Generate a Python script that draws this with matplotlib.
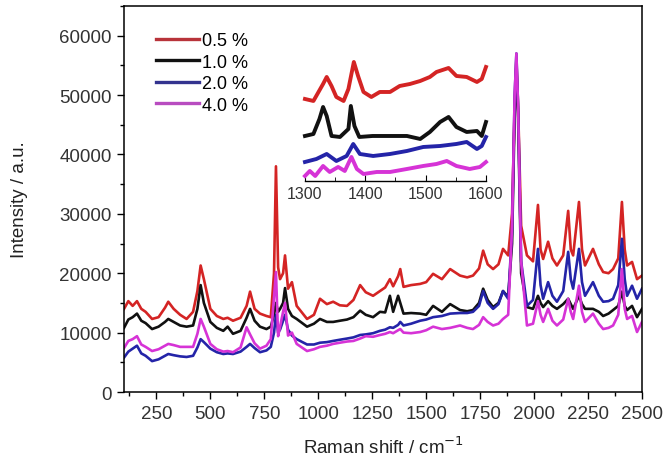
import matplotlib
matplotlib.use("Agg")
import matplotlib.pyplot as plt
from matplotlib.ticker import MultipleLocator, FixedLocator
from matplotlib.lines import Line2D

plt.rcParams['font.family'] = ['Liberation Sans', 'DejaVu Sans']

# ---------------- data ----------------
wavenumber = [100, 120, 140, 160, 180, 200, 230, 260, 290, 305, 330, 360, 390, 420, 440, 455, 470,
              500, 530, 560, 580, 605, 640, 668, 684, 705, 730, 760, 780, 795, 804, 814, 823, 837,
              846, 860, 878, 900, 948, 980, 1008, 1040, 1069, 1100, 1133, 1163, 1194, 1220, 1254,
              1286, 1310, 1332, 1347, 1370, 1380, 1395, 1430, 1472, 1500, 1532, 1573, 1611, 1657,
              1690, 1717, 1745, 1764, 1785, 1810, 1835, 1856, 1880, 1898, 1910, 1918, 1926, 1940,
              1967, 1995, 2018, 2030, 2042, 2065, 2085, 2106, 2135, 2158, 2170, 2181, 2208, 2222,
              2236, 2273, 2300, 2320, 2345, 2366, 2390, 2407, 2420, 2431, 2454, 2477, 2500]

int_05 = [14000, 15300, 14500, 15300, 14000, 13500, 12300, 12600, 14200, 15200, 14000, 13000, 12300,
          13500, 17000, 21300, 19000, 14000, 12800, 12300, 12500, 12000, 12500, 14500, 16900, 14000,
          13200, 12800, 12600, 20000, 38000, 21000, 19000, 20000, 23000, 17400, 18500, 14500, 12300,
          13000, 15700, 14800, 15200, 14600, 14500, 15500, 18000, 16800, 16200, 17000, 17600, 19000,
          17800, 19500, 20700, 17700, 18000, 18200, 18500, 19900, 19000, 20700, 19600, 19300, 19600,
          20800, 23800, 21500, 20700, 21500, 24100, 23000, 30000, 48000, 56000, 48000, 28000, 23000,
          22000, 31500, 24000, 22400, 25300, 22500, 21300, 23000, 30500, 24000, 23000, 32000, 24000,
          21300, 24100, 21500, 20200, 20000, 20700, 22500, 32000, 24000, 21300, 21900, 19000, 19600]

int_10 = [10800, 12200, 12600, 13200, 12000, 11600, 10600, 11000, 11800, 12300, 11800, 11200, 11000,
          11200, 14000, 18000, 15000, 11800, 10800, 10300, 11000, 9800, 10300, 12500, 14000, 12000,
          11000, 10600, 11000, 13000, 15000, 13500, 14000, 15000, 17500, 14000, 12800, 12300, 11000,
          11500, 12300, 11800, 11800, 12000, 12200, 12600, 13700, 13000, 12600, 13500, 13400, 16200,
          13500, 16200, 15000, 13200, 13300, 13200, 13000, 14500, 13500, 14800, 13800, 13600, 13800,
          15000, 17400, 15500, 14300, 15000, 17000, 16000, 25000, 47000, 55000, 46000, 20000, 14300,
          14000, 16200, 15000, 14300, 15300, 14500, 14000, 14800, 15700, 14800, 14000, 16200, 14800,
          14000, 14000, 13500, 12800, 13200, 13800, 14500, 16900, 14500, 13800, 14500, 12600, 14000]

int_20 = [5800, 6800, 7300, 7800, 6500, 6100, 5200, 5500, 6100, 6400, 6200, 6000, 5900,
          6100, 7500, 8900, 8400, 7300, 6700, 6400, 6500, 6400, 6800, 7600, 8100, 7400,
          6700, 7000, 7600, 10000, 13000, 10000, 10500, 12000, 13000, 10500, 9500, 8900, 8000,
          8000, 8300, 8400, 8600, 8800, 9000, 9200, 9600, 9700, 9900, 10300, 10500, 10900,
          10800, 11300, 11800, 11200, 11500, 12000, 12200, 12600, 12800, 13200, 13300, 13300, 13500,
          14500, 17000, 15000, 14000, 14800, 17000, 15700, 27000, 50000, 57000, 48000, 22000, 14500,
          15500, 24100, 18000, 15700, 18500, 16200, 15200, 17000, 23600, 19000, 17400, 24100, 18500,
          16200, 18500, 16200, 15200, 15300, 15700, 18000, 25800, 19000, 16200, 17900, 15700, 17400]

int_40 = [7400, 8600, 8900, 9400, 8000, 7600, 6900, 7200, 7800, 8100, 7900, 7600, 7600,
          7600, 9800, 12300, 11000, 8100, 7200, 6800, 6900, 6700, 7500, 10900, 9700, 8200,
          7300, 7800, 8900, 16000, 20200, 9400, 11000, 13500, 15000, 9500, 10000, 8100, 6900,
          7200, 7600, 7800, 8100, 8300, 8500, 8600, 9000, 9400, 9300, 9600, 9800, 10100,
          9900, 10400, 10600, 10000, 9900, 10100, 10400, 11000, 10600, 10800, 11200, 10800, 10600,
          11300, 12600, 11800, 11200, 11500, 12300, 13000, 28000, 50000, 57000, 48000, 22000, 11200,
          11500, 15300, 13000, 11800, 14000, 12000, 11200, 12200, 15700, 13500, 12300, 17900, 13500,
          11800, 13200, 11500, 10600, 10800, 11200, 13000, 20700, 14000, 12300, 12800, 10100, 11800]

# inset (zoomed 1300-1600 cm-1, offset arbitrary units)
inset_red_x = [1300, 1314, 1330, 1336, 1344, 1352, 1364, 1372, 1381, 1388, 1397, 1410, 1424, 1441,
               1457, 1474, 1491, 1507, 1518, 1538, 1551, 1568, 1585, 1593, 1600]
inset_red_y = [82, 80, 97, 104, 95, 84, 80, 92, 119, 105, 89, 84, 89, 89, 95, 97, 100, 104, 109, 113,
               105, 104, 99, 102, 114]
inset_black_x = [1300, 1314, 1324, 1330, 1336, 1344, 1358, 1372, 1376, 1382, 1390, 1412, 1441, 1469,
                 1491, 1507, 1524, 1538, 1551, 1568, 1585, 1593, 1600]
inset_black_y = [45, 47, 62, 74, 65, 45, 44, 52, 75, 55, 44, 45, 45, 45, 42, 49, 59, 64, 54, 49, 50, 45, 59]
inset_blue_x = [1300, 1319, 1336, 1352, 1369, 1380, 1391, 1413, 1441, 1469, 1496, 1524, 1551, 1568,
                1585, 1593, 1600]
inset_blue_y = [19, 22, 27, 20, 25, 37, 27, 25, 27, 30, 34, 35, 37, 39, 32, 35, 44]
inset_mag_x = [1300, 1308, 1317, 1330, 1341, 1355, 1366, 1377, 1386, 1397, 1419, 1441, 1469, 1496,
               1518, 1535, 1551, 1573, 1590, 1600]
inset_mag_y = [5, 10, 5, 15, 9, 14, 10, 24, 12, 7, 9, 9, 12, 15, 17, 20, 15, 12, 14, 19]

labels = ['0.5 %', '1.0 %', '2.0 %', '4.0 %']
colors = ['#d42424', '#111111', '#2424a8', '#d633d6']
legend_colors = ['#b8333a', '#111111', '#33338f', '#b84cc0']

# ---------------- figure ----------------
fig = plt.figure(figsize=(6.65, 4.64), dpi=100)
ax = fig.add_axes([0.1865, 0.153, 0.7789, 0.832])

series = [int_05, int_10, int_20, int_40]
for vals, c in zip(series, colors):
    ax.plot(wavenumber, vals, color=c, lw=1.9, solid_joinstyle='round')

ax.set_xlim(100, 2500)
ax.set_ylim(0, 65000)
ax.xaxis.set_major_locator(FixedLocator([250, 500, 750, 1000, 1250, 1500, 1750, 2000, 2250, 2500]))
ax.xaxis.set_minor_locator(FixedLocator([125, 375, 625, 875, 1125, 1375, 1625, 1875, 2125, 2375]))
ax.yaxis.set_major_locator(MultipleLocator(10000))
ax.yaxis.set_minor_locator(MultipleLocator(5000))
ax.tick_params(which='both', direction='out', top=False, right=False, labelsize=13.5, width=1.0)
ax.tick_params(which='major', length=5, pad=4)
ax.tick_params(which='minor', length=3)
for s in ax.spines.values():
    s.set_linewidth(1.1)
ax.set_xlabel('Raman shift / cm$^{-1}$', fontsize=13.5, color='#222222', labelpad=10)
ax.set_ylabel('Intensity / a.u.', fontsize=13.5, color='#222222', labelpad=22)
for lbl in ax.get_xticklabels() + ax.get_yticklabels():
    lbl.set_color('#333333')

handles = [Line2D([], [], color=c, lw=2.4) for c in legend_colors]
ax.legend(handles, labels, loc='upper left', bbox_to_anchor=(0.062, 0.932), frameon=False,
          fontsize=13, handlelength=2.4, handletextpad=0.15, labelspacing=0.25,
          borderaxespad=0, borderpad=0)

# ---------------- inset ----------------
axi = fig.add_axes([0.4586, 0.6078, 0.2722, 0.2694])
axi.patch.set_alpha(0)
axi.plot(inset_red_x, inset_red_y, color=colors[0], lw=2.8, clip_on=False)
axi.plot(inset_black_x, inset_black_y, color=colors[1], lw=2.8, clip_on=False)
axi.plot(inset_blue_x, inset_blue_y, color=colors[2], lw=2.8, clip_on=False)
axi.plot(inset_mag_x, inset_mag_y, color=colors[3], lw=2.8, clip_on=False)
axi.set_xlim(1300, 1600)
axi.set_ylim(0, 125)
for side in ['left', 'right', 'top']:
    axi.spines[side].set_visible(False)
axi.spines['bottom'].set_linewidth(1.0)
axi.set_yticks([])
axi.xaxis.set_major_locator(MultipleLocator(100))
axi.xaxis.set_minor_locator(MultipleLocator(50))
axi.tick_params(which='both', direction='in', labelsize=11.5, labelcolor='#333333')
axi.tick_params(which='major', length=4)
axi.tick_params(which='minor', length=3)

fig.savefig('out.png', dpi=100)
